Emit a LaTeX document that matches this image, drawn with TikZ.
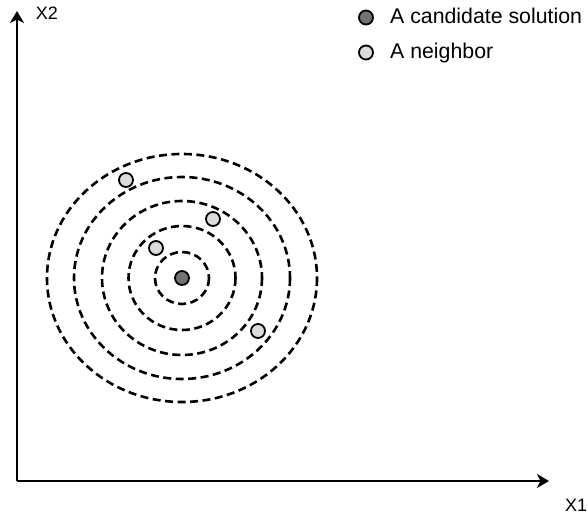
\documentclass[tikz,border=0pt]{standalone}
\usepackage{fontspec}
\setmainfont{Liberation Sans}
\usetikzlibrary{arrows.meta}
\begin{document}
\begin{tikzpicture}[x=1pt,y=-1pt,
  axis/.style={line width=2pt,-{Stealth[length=12pt,width=14pt,inset=3.5pt]}},
  ring/.style={line width=2.6pt,dash pattern=on 8pt off 4.5pt},
  cand/.style={circle,draw=black,line width=1.8pt,fill=black!55,minimum size=14pt,inner sep=0pt},
  neigh/.style={circle,draw=black,line width=1.8pt,fill=black!14,minimum size=14pt,inner sep=0pt},
  axlabel/.style={font=\fontsize{18}{21}\selectfont,inner sep=0pt,anchor=base},
  leglabel/.style={font=\fontsize{21.3}{25}\selectfont,inner sep=0pt,anchor=base west}]
\useasboundingbox (0,0) rectangle (588,521);
\coordinate (o) at (17,481);
\coordinate (ytip) at (17,11);
\coordinate (xtip) at (549,481);
\draw[axis] (o) -- (ytip);
\draw[axis] (o) -- (xtip);
\node[axlabel] (x2) at (47,19.5) {X2};
\node[axlabel] (x1) at (576,511) {X1};
% rings
\coordinate (c) at (182,278);
\draw[ring] (c) ellipse [x radius=27,y radius=26];
\draw[ring] (c) ellipse [x radius=53.5,y radius=52];
\draw[ring] (c) ellipse [x radius=80,y radius=77];
\draw[ring] (c) ellipse [x radius=108,y radius=101];
\draw[ring] (c) ellipse [x radius=135,y radius=124];
\node[cand] (cs) at (c) {};
\node[neigh] (n1) at (126,180) {};
\node[neigh] (n2) at (213,219) {};
\node[neigh] (n3) at (156,248) {};
\node[neigh] (n4) at (258,331) {};
% legend
\node[cand] (lc) at (366,17.5) {};
\node[leglabel] (lct) at (390,23.5) {A candidate solution};
\node[neigh] (ln) at (366,52.5) {};
\node[leglabel] (lnt) at (390,58.5) {A neighbor};
\end{tikzpicture}
\end{document}
